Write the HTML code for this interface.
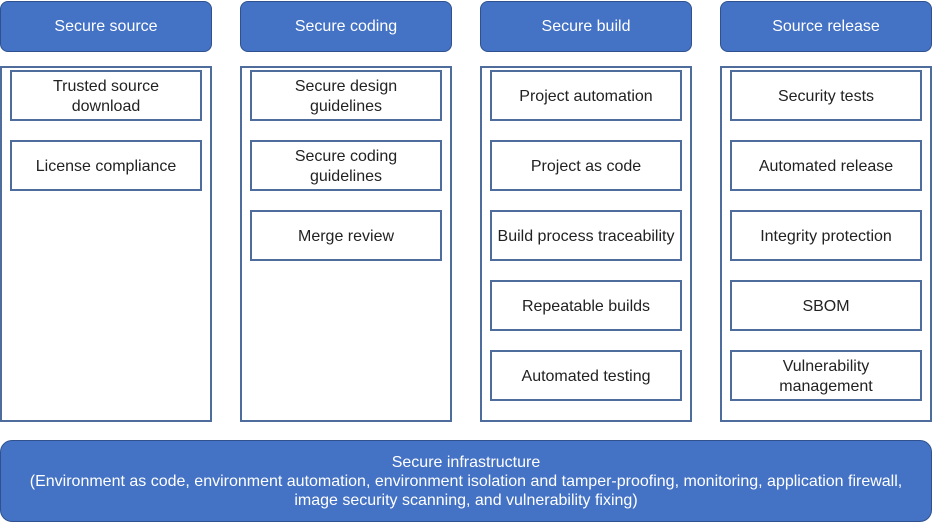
<!DOCTYPE html>
<html><head><meta charset="utf-8"><style>
body{margin:0;width:932px;height:522px;background:#fff;position:relative;font-family:"Liberation Sans",Arial,sans-serif;overflow:hidden}
.h,.b,.p,.i{position:absolute;box-sizing:border-box;display:flex;align-items:center;justify-content:center;text-align:center}
.h{background:#4472C4;border:1.5px solid #2F528F;border-radius:8px;color:#fff;font-size:16px;height:51px;width:212px;top:1px;padding-top:1px}
.p{border:2px solid #4F6D9C;height:356px;width:212px;top:66px}
.i{border:2px solid #4F6D9C;width:192px;height:51px;font-size:16px;color:#222;line-height:20px;background:#fff;padding-top:2px}
.b{left:0;top:440px;width:932px;height:82px;background:#4472C4;border:1.5px solid #2F528F;border-radius:12px;color:#fff;font-size:16px;line-height:19px}
</style></head><body>
<div class="h" style="left:0">Secure source</div>
<div class="h" style="left:240px">Secure coding</div>
<div class="h" style="left:480px">Secure build</div>
<div class="h" style="left:720px">Source release</div>
<div class="p" style="left:0"></div>
<div class="p" style="left:240px"></div>
<div class="p" style="left:480px"></div>
<div class="p" style="left:720px"></div>
<div class="i" style="left:10px;top:70px">Trusted source<br>download</div>
<div class="i" style="left:10px;top:140px">License compliance</div>
<div class="i" style="left:250px;top:70px">Secure design<br>guidelines</div>
<div class="i" style="left:250px;top:140px">Secure coding<br>guidelines</div>
<div class="i" style="left:250px;top:210px">Merge review</div>
<div class="i" style="left:490px;top:70px">Project automation</div>
<div class="i" style="left:490px;top:140px">Project as code</div>
<div class="i" style="left:490px;top:210px">Build process traceability</div>
<div class="i" style="left:490px;top:280px">Repeatable builds</div>
<div class="i" style="left:490px;top:350px">Automated testing</div>
<div class="i" style="left:730px;top:70px">Security tests</div>
<div class="i" style="left:730px;top:140px">Automated release</div>
<div class="i" style="left:730px;top:210px">Integrity protection</div>
<div class="i" style="left:730px;top:280px">SBOM</div>
<div class="i" style="left:730px;top:350px">Vulnerability<br>management</div>
<div class="b">Secure infrastructure<br>(Environment as code, environment automation, environment isolation and tamper-proofing, monitoring, application firewall,<br>image security scanning, and vulnerability fixing)</div>
</body></html>
